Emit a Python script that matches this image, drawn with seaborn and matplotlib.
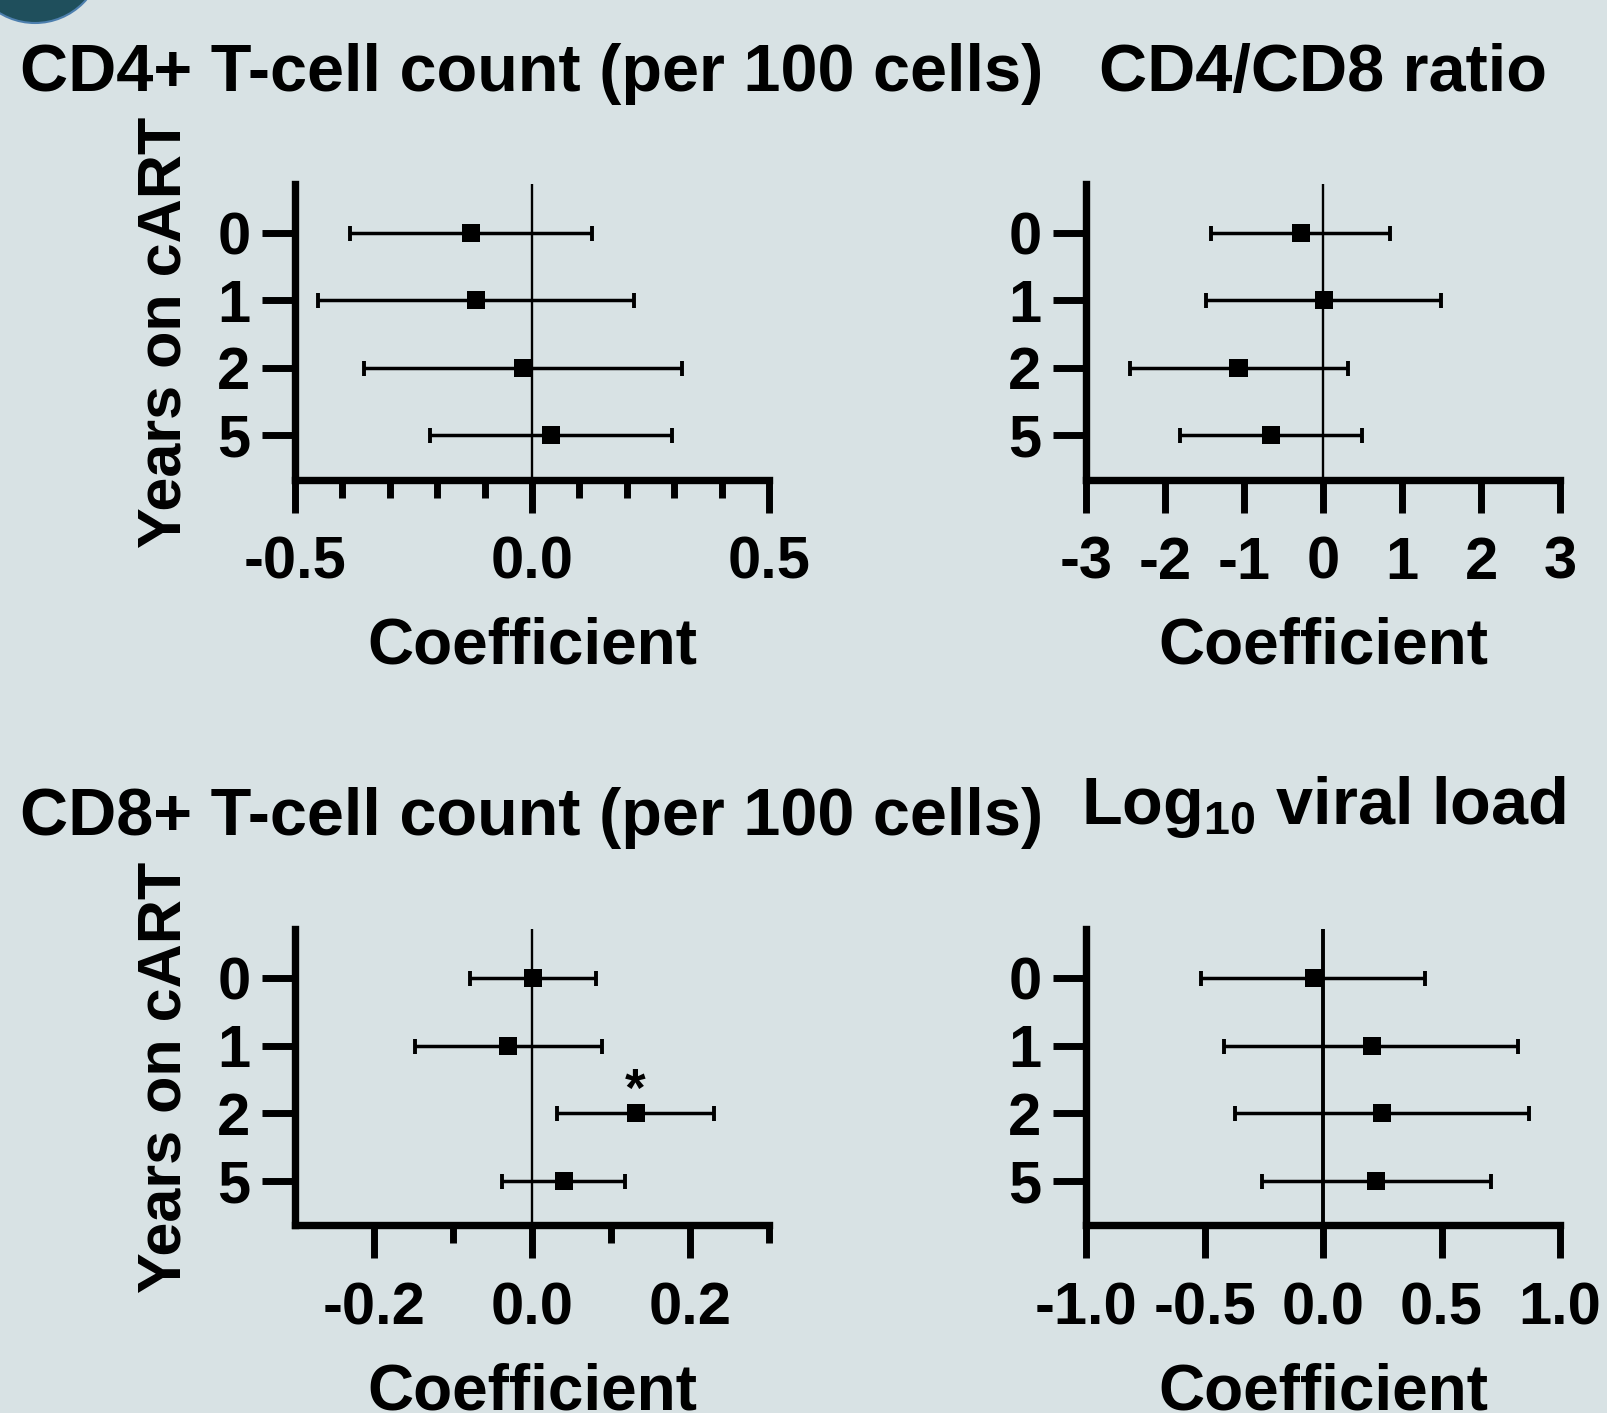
import numpy as np
import matplotlib
matplotlib.use("Agg")
import matplotlib.pyplot as plt
import seaborn as sns
from matplotlib.patches import Circle
from matplotlib.transforms import IdentityTransform

# ---------------------------------------------------------
# Data
# ---------------------------------------------------------
years = ["0", "1", "2", "5"]

cd4_coef = [-0.129, -0.118, -0.019, 0.040]
cd4_lo = [-0.385, -0.452, -0.354, -0.215]
cd4_hi = [0.126, 0.214, 0.316, 0.296]

ratio_coef = [-0.28, 0.01, -1.07, -0.66]
ratio_lo = [-1.42, -1.48, -2.44, -1.81]
ratio_hi = [0.85, 1.49, 0.32, 0.49]

cd8_coef = [0.001, -0.030, 0.131, 0.040]
cd8_lo = [-0.078, -0.148, 0.032, -0.038]
cd8_hi = [0.081, 0.088, 0.230, 0.118]

vl_coef = [-0.04, 0.205, 0.247, 0.224]
vl_lo = [-0.514, -0.416, -0.373, -0.257]
vl_hi = [0.432, 0.822, 0.867, 0.709]

BG = "#d8e2e4"

sns.set_theme(style="ticks")
plt.rcParams["font.family"] = ["Liberation Sans", "DejaVu Sans"]
plt.rcParams["font.weight"] = "bold"
plt.rcParams["axes.titleweight"] = "bold"
plt.rcParams["axes.labelweight"] = "bold"
plt.rcParams["text.color"] = "black"
plt.rcParams["axes.labelcolor"] = "black"
plt.rcParams["xtick.color"] = "black"
plt.rcParams["ytick.color"] = "black"
plt.rcParams["mathtext.fontset"] = "custom"
plt.rcParams["mathtext.rm"] = "Liberation Sans:bold"
plt.rcParams["mathtext.it"] = "Liberation Sans:bold"
plt.rcParams["mathtext.bf"] = "Liberation Sans:bold"


def forest(ax, coef, lo, hi, xlim, major, labels, minor, title, title_pad,
           zero_lw=1.7, ylabel=None):
    coef = np.asarray(coef)
    lo = np.asarray(lo)
    hi = np.asarray(hi)
    ypos = np.arange(len(years))

    ax.set_facecolor(BG)
    ax.axvline(0, color="black", lw=zero_lw, zorder=1)
    ax.errorbar(coef, ypos, xerr=[coef - lo, hi - coef], fmt="none",
                ecolor="black", elinewidth=2.5, capsize=5.4, capthick=2.8,
                zorder=2)
    sns.scatterplot(x=coef, y=ypos, marker="s", s=170, color="black",
                    edgecolor="none", ax=ax, zorder=3)

    ax.set_xlim(*xlim)
    ax.set_ylim(3.66, -0.72)
    ax.set_xticks(major)
    ax.set_xticklabels(labels)
    ax.set_xticks(minor, minor=True)
    ax.set_yticks(ypos)
    ax.set_yticklabels(years)

    sns.despine(ax=ax)
    for side in ["left", "bottom"]:
        ax.spines[side].set_linewidth(5.3)
        ax.spines[side].set_color("black")

    ax.tick_params(axis="both", which="major", length=24, width=5,
                   labelsize=43, direction="out")
    ax.tick_params(axis="x", which="major", pad=16)
    ax.tick_params(axis="y", which="major", pad=8)
    ax.tick_params(axis="x", which="minor", length=13, width=5,
                   direction="out")
    ax.tick_params(axis="y", which="minor", length=0)

    ax.set_title(title, fontsize=48, pad=title_pad)
    ax.set_xlabel("Coefficient", fontsize=46, labelpad=19)
    if ylabel:
        ax.set_ylabel(ylabel, fontsize=44)
        ax.yaxis.set_label_coords(-0.215, 0.5)
    else:
        ax.set_ylabel("")


fig = plt.figure(figsize=(16.07, 14.13), dpi=100, facecolor=BG)

left_x, right_x, w = 0.1836, 0.6758, 0.2950
top_y, bot_y, h = 0.6603, 0.1327, 0.2095

ax1 = fig.add_axes([left_x, top_y, w, h])
ax2 = fig.add_axes([right_x, top_y, w, h])
ax3 = fig.add_axes([left_x, bot_y, w, h])
ax4 = fig.add_axes([right_x, bot_y, w, h])

forest(ax1, cd4_coef, cd4_lo, cd4_hi, (-0.5, 0.5), [-0.5, 0.0, 0.5],
       ["-0.5", "0.0", "0.5"], np.arange(-0.4, 0.45, 0.1),
       "CD4+ T-cell count (per 100 cells)", 67, ylabel="Years on cART")
forest(ax2, ratio_coef, ratio_lo, ratio_hi, (-3, 3), [-3, -2, -1, 0, 1, 2, 3],
       ["-3", "-2", "-1", "0", "1", "2", "3"], [], "CD4/CD8 ratio", 67)
forest(ax3, cd8_coef, cd8_lo, cd8_hi, (-0.3, 0.3), [-0.2, 0.0, 0.2],
       ["-0.2", "0.0", "0.2"], [-0.1, 0.1, 0.3],
       "CD8+ T-cell count (per 100 cells)", 68, ylabel="Years on cART")
forest(ax4, vl_coef, vl_lo, vl_hi, (-1.0, 1.0), [-1.0, -0.5, 0.0, 0.5, 1.0],
       ["-1.0", "-0.5", "0.0", "0.5", "1.0"], [],
       r"Log$_{10}$ viral load", 76, zero_lw=2.8)

# significance marker
ax3.annotate("*", xy=(cd8_coef[2], 2), xytext=(0, 5), textcoords="offset points",
             ha="center", va="baseline", fontsize=38, fontweight="bold")

# decorative badge in the corner
fig.patches.append(Circle((35, 1413 + 45), 68, transform=IdentityTransform(),
                          facecolor="#1f4f5c", edgecolor="#4d7fae", lw=1.5))

fig.savefig("out.png", dpi=100, facecolor=BG)
